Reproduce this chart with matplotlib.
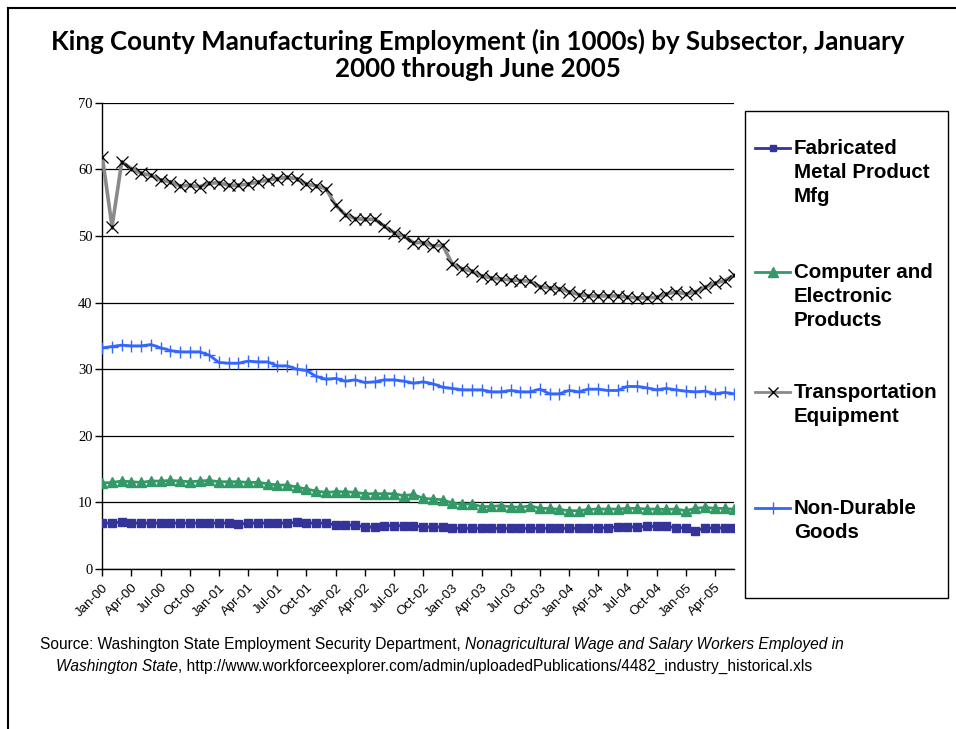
import matplotlib
matplotlib.use("Agg")
import matplotlib.pyplot as plt
from matplotlib.lines import Line2D
from matplotlib import font_manager

# monthly series, Jan 2000 - Jun 2005 (thousands)
months = [f"{m}-{y:02d}" for y in range(0, 6) for m in
          ["Jan", "Feb", "Mar", "Apr", "May", "Jun", "Jul", "Aug", "Sep", "Oct", "Nov", "Dec"]][:66]

fabricated = [6.9, 6.9, 7.05, 6.9, 6.9, 6.9, 6.9, 6.9, 6.9, 6.9, 6.9, 6.9,
              6.9, 6.9, 6.7, 6.9, 6.9, 6.9, 6.9, 6.9, 7.0, 6.9, 6.9, 6.9,
              6.6, 6.6, 6.6, 6.3, 6.3, 6.5, 6.5, 6.5, 6.5, 6.3, 6.3, 6.3,
              6.1, 6.1, 6.1, 6.1, 6.1, 6.1, 6.1, 6.1, 6.1, 6.1, 6.1, 6.1,
              6.1, 6.1, 6.2, 6.2, 6.2, 6.3, 6.3, 6.3, 6.4, 6.4, 6.4, 6.2,
              6.2, 5.7, 6.2, 6.1, 6.2, 6.1]

computer = [12.9, 13.0, 13.2, 13.1, 13.0, 13.2, 13.2, 13.3, 13.2, 13.1, 13.2, 13.3,
            13.1, 13.1, 13.1, 13.0, 13.0, 12.8, 12.6, 12.6, 12.3, 12.0, 11.7, 11.5,
            11.6, 11.6, 11.5, 11.3, 11.3, 11.3, 11.3, 11.0, 11.2, 10.6, 10.5, 10.4,
            9.9, 9.7, 9.8, 9.35, 9.4, 9.5, 9.35, 9.25, 9.5, 9.1, 9.1, 8.95,
            8.75, 8.75, 8.95, 9.0, 9.0, 9.0, 9.1, 9.1, 9.0, 9.0, 8.95, 9.0,
            8.75, 9.1, 9.25, 9.1, 9.1, 8.95]

transportation = [61.9, 51.4, 61.1, 60.1, 59.4, 59.1, 58.4, 58.1, 57.5, 57.6, 57.4, 57.9,
                  58.0, 57.6, 57.6, 57.8, 58.1, 58.4, 58.6, 58.8, 58.6, 57.8, 57.5, 57.1,
                  54.6, 53.2, 52.6, 52.5, 52.5, 51.5, 50.5, 50.0, 49.0, 49.0, 48.5, 48.6,
                  45.8, 45.1, 44.7, 44.0, 43.7, 43.5, 43.4, 43.3, 43.2, 42.4, 42.2, 42.1,
                  41.6, 41.2, 41.0, 41.0, 41.0, 41.0, 40.8, 40.7, 40.7, 40.8, 41.3, 41.6,
                  41.3, 41.6, 42.3, 42.9, 43.3, 44.1]

nondurable = [33.2, 33.4, 33.6, 33.5, 33.5, 33.7, 33.2, 32.8, 32.6, 32.6, 32.6, 32.1,
              31.0, 30.9, 30.9, 31.2, 31.1, 31.1, 30.5, 30.5, 30.0, 29.8, 28.9, 28.5,
              28.6, 28.2, 28.4, 28.0, 28.1, 28.4, 28.4, 28.2, 27.9, 28.1, 27.8, 27.3,
              27.1, 26.9, 26.9, 26.9, 26.6, 26.6, 26.8, 26.6, 26.6, 27.0, 26.3, 26.3,
              26.8, 26.6, 27.0, 27.0, 26.8, 26.8, 27.4, 27.4, 27.2, 26.9, 27.1, 26.9,
              26.7, 26.6, 26.7, 26.3, 26.5, 26.3]

labels = ["Fabricated\nMetal Product\nMfg", "Computer and\nElectronic\nProducts",
          "Transportation\nEquipment", "Non-Durable\nGoods"]

# narrow face for the source note if one is around
have = {f.name for f in font_manager.fontManager.ttflist}
narrow = next((f for f in ["Liberation Sans Narrow", "DejaVu Sans Condensed"] if f in have),
              "Liberation Sans")

x = list(range(len(months)))

fig = plt.figure(figsize=(9.56, 7.29), dpi=100)
ax = fig.add_axes([102.3 / 956, 1 - 569 / 729, 632 / 956, 466.3 / 729])

ax.plot(x, fabricated, color="#333399", lw=2, marker="s", ms=5.5, zorder=4)
ax.plot(x, computer, color="#339966", lw=2, marker="^", ms=7, zorder=4)
ax.plot(x, transportation, color="#8a8a8a", lw=2.6, zorder=3)
ax.plot(x, transportation, ls="none", marker="x", ms=8.5, mec="black", mew=0.9, zorder=4)
ax.plot(x, transportation, ls="none", marker="|", ms=3, mec="black", mew=1, zorder=4)
ax.plot(x, nondurable, color="#3366FF", lw=2, marker="+", ms=9, mew=1, zorder=4)

ax.set_xlim(0, len(months) - 1)
ax.set_ylim(0, 70)
ax.set_yticks(range(0, 71, 10))
ax.yaxis.grid(True, color="black", lw=0.9)
ax.set_axisbelow(True)
for s in ["top", "right"]:
    ax.spines[s].set_visible(False)
for s in ["left", "bottom"]:
    ax.spines[s].set_color("black")
    ax.spines[s].set_linewidth(1)

ax.set_xticks(x[::3])
ax.set_xticklabels(months[::3], rotation=45, ha="right", rotation_mode="anchor",
                   fontsize=9.5, family="Liberation Sans")
ax.tick_params(axis="x", length=5, width=1, pad=4)
ax.tick_params(axis="y", length=5, width=1, pad=2, labelsize=10.5)
for t in ax.get_yticklabels():
    t.set_family("Liberation Serif")

fig.text(0.5, 1 - 55 / 729,
         "King County Manufacturing Employment (in 1000s) by Subsector, January\n2000 through June 2005",
         ha="center", va="center", fontsize=18.6, fontweight="bold", family="Lato",
         linespacing=1.18)

# outer frame (top and left edges)
fig.add_artist(Line2D([8 / 956, 8 / 956], [0, 1 - 8 / 729], transform=fig.transFigure,
                      color="black", lw=1.5))
fig.add_artist(Line2D([8 / 956, 1], [1 - 8 / 729, 1 - 8 / 729], transform=fig.transFigure,
                      color="black", lw=1.5))

# legend box
fig.add_artist(plt.Rectangle((745 / 956, 1 - 598 / 729), 203 / 956, 487 / 729,
                             transform=fig.transFigure, fill=False, ec="black", lw=1))
styles = [
    dict(color="#333399", marker="s", ms=5),
    dict(color="#339966", marker="^", ms=6.5),
    dict(color="#8a8a8a", marker="x", ms=7, mec="black"),
    dict(color="#3366FF", marker="+", ms=9),
]
entry_y = [148, 272, 392, 508]
for lab, st, yy in zip(labels, styles, entry_y):
    fy = 1 - yy / 729
    fig.add_artist(Line2D([755 / 956, 790 / 956], [fy, fy], transform=fig.transFigure,
                          color=st["color"], lw=2))
    fig.add_artist(Line2D([772.5 / 956], [fy], transform=fig.transFigure, ls="none",
                          marker=st["marker"], ms=st["ms"], color=st["color"],
                          mec=st.get("mec", st["color"]), mew=1))
    fig.text(794 / 956, fy + 9 / 729, lab, ha="left", va="top", fontsize=14.8,
             fontweight="bold", family="Liberation Sans", linespacing=1.32)

# source note, with italic title
fig.canvas.draw()
r = fig.canvas.get_renderer()
src_kw = dict(fontsize=11.2, family=narrow, va="center")
y1 = 1 - 645 / 729
y2 = 1 - 666 / 729
parts1 = [("Source: Washington State Employment Security Department, ", "normal"),
          ("Nonagricultural Wage and Salary Workers Employed in", "italic")]
parts2 = [("Washington State", "italic"),
          (", http://www.workforceexplorer.com/admin/uploadedPublications/4482_industry_historical.xls", "normal")]
for parts, yy, x0 in [(parts1, y1, 40), (parts2, y2, 56)]:
    px = x0
    for txt, style in parts:
        t = fig.text(px / 956, yy, txt, style=style, **src_kw)
        px += t.get_window_extent(r).width

fig.savefig("out.png", dpi=100)
